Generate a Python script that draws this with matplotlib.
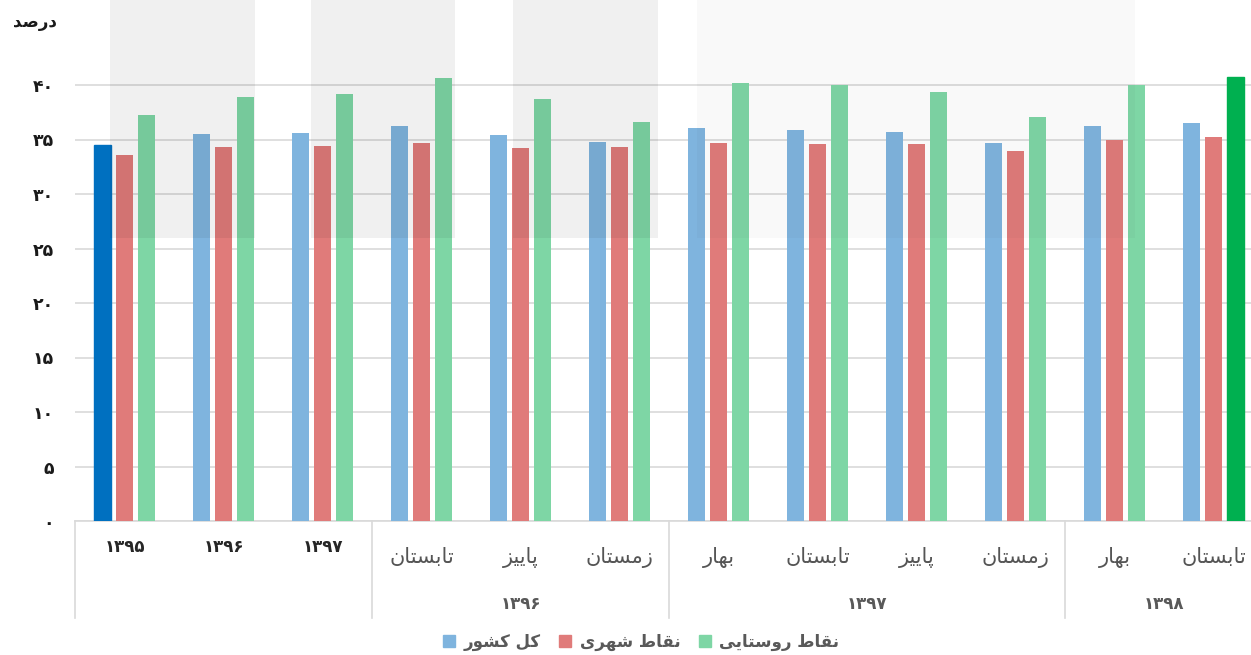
import matplotlib
matplotlib.use('Agg')
import matplotlib.pyplot as plt
import numpy as np
from matplotlib import font_manager, transforms
from matplotlib.ft2font import FT2Font
from matplotlib.patches import Rectangle, Patch
from matplotlib.lines import Line2D

# ---- data ----
cat_labels = ['۱۳۹۵', '۱۳۹۶', '۱۳۹۷', 'تابستان', 'پاییز', 'زمستان',
              'بهار', 'تابستان', 'پاییز', 'زمستان', 'بهار', 'تابستان']
year_groups = ['۱۳۹۶', '۱۳۹۷', '۱۳۹۸']
year_first = [3, 6, 10]
year_last = [5, 9, 11]
kol_keshvar = [34.5, 35.5, 35.6, 36.2, 35.4, 34.8, 36.1, 35.9, 35.7, 34.7, 36.2, 36.5]
noghat_shahri = [33.6, 34.3, 34.4, 34.7, 34.2, 34.3, 34.7, 34.55, 34.55, 33.9, 35.0, 35.25]
noghat_roustayi = [37.25, 38.9, 39.15, 40.6, 38.7, 36.6, 40.15, 40.0, 39.4, 37.1, 40.0, 40.7]
series_names = ['کل کشور', 'نقاط شهری', 'نقاط روستایی']
y_ticks = [0, 5, 10, 15, 20, 25, 30, 35, 40]
y_title = 'درصد'

W, H = 1251, 655

# ---- simple persian shaping (matplotlib does not shape arabic script) ----
FORMS = {
    'ا': [0xFE8D, 0xFE8E, None, None],
    'ب': [0xFE8F, 0xFE90, 0xFE91, 0xFE92],
    'ت': [0xFE95, 0xFE96, 0xFE97, 0xFE98],
    'د': [0xFEA9, 0xFEAA, None, None],
    'ر': [0xFEAD, 0xFEAE, None, None],
    'ز': [0xFEAF, 0xFEB0, None, None],
    'س': [0xFEB1, 0xFEB2, 0xFEB3, 0xFEB4],
    'ش': [0xFEB5, 0xFEB6, 0xFEB7, 0xFEB8],
    'ص': [0xFEB9, 0xFEBA, 0xFEBB, 0xFEBC],
    'ط': [0xFEC1, 0xFEC2, 0xFEC3, 0xFEC4],
    'ق': [0xFED5, 0xFED6, 0xFED7, 0xFED8],
    'ل': [0xFEDD, 0xFEDE, 0xFEDF, 0xFEE0],
    'م': [0xFEE1, 0xFEE2, 0xFEE3, 0xFEE4],
    'ن': [0xFEE5, 0xFEE6, 0xFEE7, 0xFEE8],
    'ه': [0xFEE9, 0xFEEA, 0xFEEB, 0xFEEC],
    'و': [0xFEED, 0xFEEE, None, None],
    'پ': [0xFB56, 0xFB57, 0xFB58, 0xFB59],
    'ک': [0xFB8E, 0xFB8F, 0xFB90, 0xFB91],
    'ی': [0xFBFC, 0xFBFD, 0xFBFE, 0xFBFF],
}
FALLBACK = {
    'پ': [0xFE8F, 0xFE90, 0xFE91, 0xFE92],
    'ک': [0xFED9, 0xFEDA, 0xFEDB, 0xFEDC],
    'ی': [0xFEEF, 0xFEF0, 0xFEF3, 0xFEF4],
}


def charmap(weight):
    path = font_manager.findfont(font_manager.FontProperties(family='DejaVu Sans', weight=weight))
    return FT2Font(path).get_charmap()


CMAPS = {'normal': charmap('normal'), 'bold': charmap('bold')}


def shape(text, weight='bold'):
    cmap = CMAPS[weight]
    if all('\u06F0' <= c <= '\u06F9' for c in text):
        if all(ord(c) in cmap for c in text):
            return text, weight
        return ''.join(chr(ord(c) - 0x06F0 + 0x0660) for c in text), weight
    out = []
    for i, c in enumerate(text):
        if c not in FORMS:
            out.append(c)
            continue
        prev = text[i - 1] if i > 0 else None
        nxt = text[i + 1] if i + 1 < len(text) else None
        jp = prev in FORMS and FORMS[prev][2] is not None
        jn = FORMS[c][2] is not None and nxt in FORMS
        k = 3 if (jp and jn) else 1 if jp else 2 if jn else 0
        g = FORMS[c][k]
        if g not in cmap and c in FALLBACK:
            g = FALLBACK[c][k]
        if g not in cmap:
            g = ord(c)
        out.append(chr(g))
    s = ''.join(reversed(out))
    if weight == 'bold' and not all(ord(ch) in cmap for ch in s if ch != ' '):
        return shape(text, 'normal')
    return s, weight


plt.rcParams['font.family'] = ['DejaVu Sans']

fig = plt.figure(figsize=(W / 100, H / 100), dpi=100)
fig.patch.set_facecolor('white')
ax = fig.add_axes([75 / W, (H - 521) / H, 1188 / W, (521 - 30.5) / H])
ax.set_facecolor('none')

x = np.arange(len(cat_labels))
bw = 0.172
off = 0.222
blue, red, green = '#7FB4DE', '#E07B7A', '#7ED6A5'
b1 = ax.bar(x - off, kol_keshvar, bw, color=blue, zorder=3)
b2 = ax.bar(x, noghat_shahri, bw, color=red, zorder=3)
b3 = ax.bar(x + off, noghat_roustayi, bw, color=green, zorder=3)
b1[0].set_color('#0070C0')
b3[-1].set_color('#00B050')

ax.set_xlim(-0.5, len(cat_labels) - 0.5)
ax.set_ylim(0, 45)
ax.set_yticks(y_ticks)
tick_txt = [shape(''.join(chr(0x06F0 + int(d)) for d in str(v)))[0] for v in y_ticks]
ax.set_yticklabels(tick_txt, fontsize=12.5, fontweight='bold', color='#1a1a1a')
ax.tick_params(axis='y', length=0, pad=15)
ax.tick_params(axis='x', length=0, labelbottom=False)
ax.yaxis.grid(True, color='#d9d9d9', lw=1.2, zorder=0)
for s in ['top', 'right', 'left']:
    ax.spines[s].set_visible(False)
ax.spines['bottom'].set_color('#d9d9d9')
ax.spines['bottom'].set_linewidth(1.2)

# category labels (two levels)
tr = transforms.blended_transform_factory(ax.transData, fig.transFigure)
for i, lab in enumerate(cat_labels):
    if i < 3:
        s, w = shape(lab, 'bold')
        ax.text(i, (H - 547) / H, s, transform=tr, ha='center', va='center',
                fontsize=12, fontweight=w, color='#262626')
    else:
        s, w = shape(lab, 'normal')
        ax.text(i, (H - 557) / H, s, transform=tr, ha='center', va='center',
                fontsize=15, fontweight=w, color='#555555')
for lab, a, b in zip(year_groups, year_first, year_last):
    s, w = shape(lab, 'bold')
    ax.text((a + b) / 2, (H - 604) / H, s, transform=tr, ha='center', va='center',
            fontsize=12, fontweight=w, color='#595959')
for xs in [-0.5, 2.5, 5.5, 9.5]:
    ax.add_artist(Line2D([xs, xs], [(H - 521) / H, (H - 618) / H], transform=tr,
                         color='#d9d9d9', lw=1.2, clip_on=False))

# y title
s, w = shape(y_title, 'bold')
fig.text(35 / W, (H - 22) / H, s, ha='center', va='center', fontsize=12,
         fontweight=w, color='#1a1a1a')

# legend
handles = [Patch(color=c) for c in (blue, red, green)]
labs = [shape(n, 'bold')[0] for n in series_names]
leg = fig.legend(handles, labs, loc='center', bbox_to_anchor=(641 / W, (H - 642) / H),
                 ncol=3, frameon=False, handlelength=0.75, handleheight=0.75,
                 handletextpad=0.5, columnspacing=1.1,
                 prop={'size': 12, 'weight': shape(series_names[0], 'bold')[1]},
                 labelcolor='#595959')

# faint watermark panels
for x0, x1, a in [(110, 255, 0.06), (311, 455, 0.06), (513, 658, 0.06), (697, 1135, 0.025)]:
    fig.add_artist(Rectangle((x0 / W, (H - 238) / H), (x1 - x0) / W, 238 / H,
                             transform=fig.transFigure, color='k', alpha=a,
                             lw=0, zorder=5))

fig.savefig('out.png', dpi=100)
